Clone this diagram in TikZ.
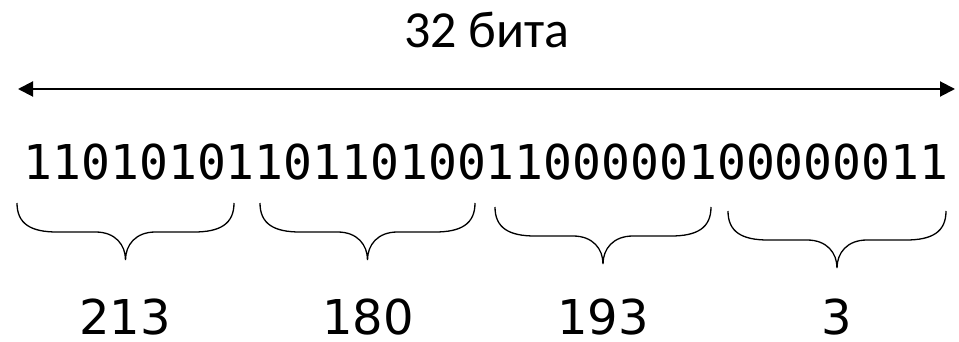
\documentclass[tikz,border=0pt]{standalone}
\usepackage{fontspec}
\setmainfont{Carlito}
\newfontfamily\bitsfont{DejaVu Sans Mono}
\newfontfamily\numfont{DejaVu Sans}
\usetikzlibrary{arrows.meta}
\tikzset{
  titletext/.style={anchor=base, inner sep=0pt, font=\fontsize{52}{58}\selectfont},
  bitstext/.style={anchor=base, inner sep=0pt, font=\bitsfont\fontsize{48}{52}\selectfont},
  numtext/.style={anchor=base, inner sep=0pt, text depth=0pt, font=\numfont\fontsize{48}{52}\selectfont},
  dimarrow/.style={line width=2pt, {Triangle[length=15pt,width=15pt]}-{Triangle[length=15pt,width=15pt]}},
  bracestyle/.style={line width=1.3pt}
}
\begin{document}
\begin{tikzpicture}[x=1pt,y=-1pt]
\useasboundingbox (0,0) rectangle (959,342);
\node[titletext] (title) at (487,48) {32 бита};
\coordinate (al) at (18,89);
\coordinate (ar) at (955,89);
\draw[dimarrow] (al) -- (ar);
\node[bitstext] (bits) at (486,180) {11010101101101001100000100000011};
\foreach \L/\R/\y [count=\i] in {17/234/203, 260/475/203, 495/711/207, 728/946/211}{
  \pgfmathsetmacro\T{(\L+\R)/2}
  \pgfmathsetmacro\yf{\y+29}
  \pgfmathsetmacro\yt{\y+57}
  \pgfmathsetmacro\ym{\y+21}
  \pgfmathsetmacro\yk{\y+42}
  \coordinate (b\i l) at (\L,\y);
  \coordinate (b\i r) at (\R,\y);
  \coordinate (b\i t) at (\T,\yt);
  \draw[bracestyle] (b\i l) .. controls (\L,\ym) and (\L+14,\yf) .. (\L+40,\yf)
     -- (\T-30,\yf) .. controls (\T-10,\yf) and (\T,\yk) .. (b\i t)
     .. controls (\T,\yk) and (\T+10,\yf) .. (\T+30,\yf)
     -- (\R-40,\yf) .. controls (\R-14,\yf) and (\R,\ym) .. (b\i r);
}
\node[numtext] (n1) at (125,334) {213};
\node[numtext] (n2) at (368,334) {180};
\node[numtext] (n3) at (603,334) {193};
\node[numtext] (n4) at (837,334) {3};
\end{tikzpicture}
\end{document}
